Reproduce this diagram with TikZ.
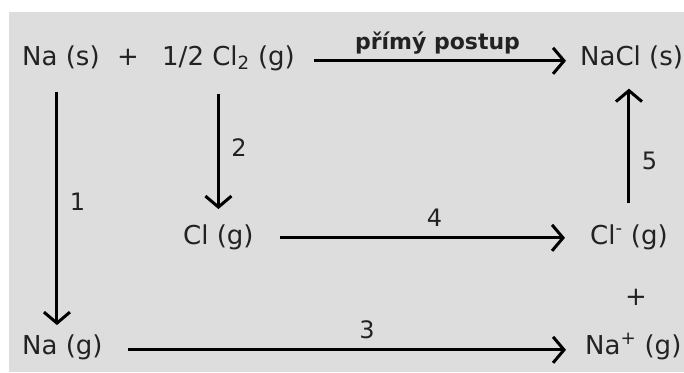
\documentclass[tikz,border=0pt]{standalone}
\usepackage{fontspec}
\setmainfont{DejaVu Sans}
\usetikzlibrary{arrows.meta}
\definecolor{bggray}{RGB}{221,221,221}
\definecolor{txtgray}{RGB}{34,34,34}
\tikzset{node distance=2.0cm, auto}
\tikzset{
  spec/.style={inner xsep=10pt, inner ysep=4pt, anchor=base west, text=txtgray},
  arr/.style={line width=3pt, -{Straight Barb[length=11pt,width=26pt]}},
  num/.style={text=txtgray, font=\fontsize{24}{28}\selectfont}
}

\begin{document}
\begin{tikzpicture}[x=1pt, y=-1pt, font=\fontsize{26}{30}\selectfont]
\useasboundingbox (0,0) rectangle (684,372);
\fill[bggray] (9,12) rectangle (684,372);
% top row
\node[spec] (nas) at (12,65) {Na (s)};
\node[spec, anchor=base] (plus) at (128,65) {+};
\node[spec] (half) at (152,65) {1/2 Cl\textsubscript{2} (g)};
\node[spec] (nacl) at (570,65) {NaCl (s)};
% middle row
\node[spec] (clg) at (173,244) {Cl (g)};
\node[spec] (clm) at (580,244) {Cl\textsuperscript{-} (g)};
\node[spec, anchor=base] (plus2) at (636,305) {+};
% bottom row
\node[spec] (nag) at (12,354) {Na (g)};
\node[spec] (nap) at (575,354) {Na\textsuperscript{+} (g)};
% connectors
\draw[arr, shorten <=9pt, shorten >=4pt] ([yshift=-3pt]half.east) -- ([yshift=-3pt]half.east -| nacl.west)
  node[midway, above=2pt, text=txtgray, font=\fontsize{22}{26}\selectfont\bfseries] {přímý postup};
\draw[arr, shorten <=19pt, shorten >=5pt] ([xshift=-4pt]nas.south) -- ([xshift=-4pt]nas.south |- nag.north)
  node[num, pos=.5, right=8pt] {1};
\draw[arr, shorten <=19pt, shorten >=11pt] (clg.north |- half.south) -- (clg.north)
  node[num, pos=.5, right=8pt] {2};
\draw[arr, shorten <=17pt, shorten >=16pt] (clm.north) -- (clm.north |- nacl.south)
  node[num, pos=.4, right=8pt] {5};
\draw[arr, shorten <=16pt, shorten >=15pt] ([yshift=-1pt]clg.east) -- ([yshift=-1pt]clg.east -| clm.west)
  node[num, pos=.54, above=6pt] {4};
\draw[arr, shorten <=15pt, shorten >=9pt] ([yshift=-3pt]nag.east) -- ([yshift=-3pt]nag.east -| nap.west)
  node[num, pos=.55, above=6pt] {3};
\end{tikzpicture}
\end{document}
